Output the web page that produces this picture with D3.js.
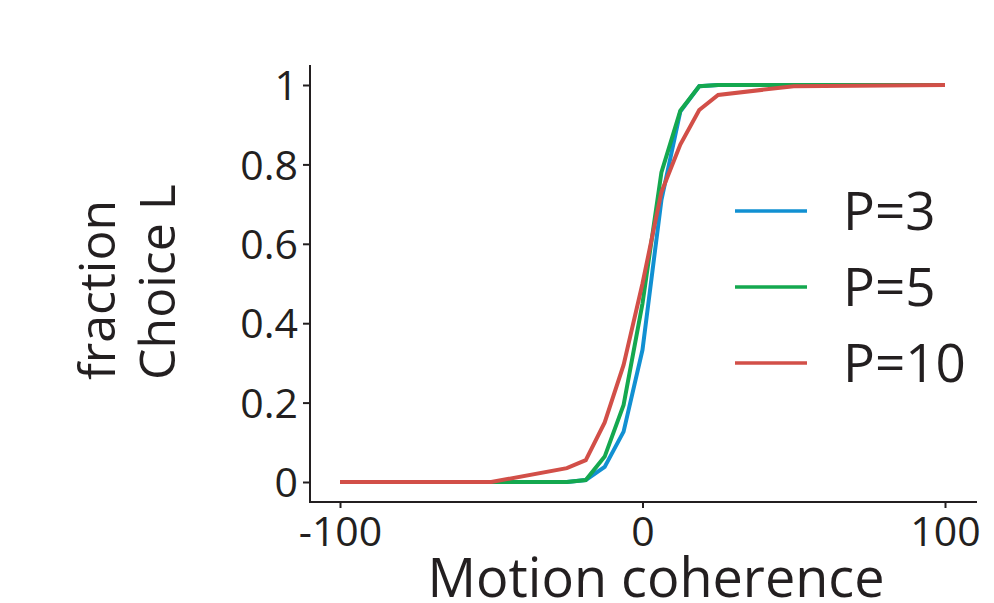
<!DOCTYPE html>
<html>
<head>
<meta charset="utf-8">
<script src="https://cdn.jsdelivr.net/npm/d3@7"></script>
<style>
  html, body { margin: 0; padding: 0; background: #fff; }
  svg text { font-family: 'Open Sans', sans-serif; fill: #231f20; }
</style>
</head>
<body>
<svg id="chart" width="994" height="603"></svg>
<script>
// coherence levels (x) and fraction of left choices per pool size
const coherence = [-100, -50, -25, -18.75, -12.5, -6.25, 0, 6.25, 12.5, 18.75, 25, 50, 100];
const p3 = [0, 0, 0, 0.005, 0.038, 0.127, 0.333, 0.71, 0.933, 0.997, 1, 1, 1];
const p5 = [0, 0, 0, 0.005, 0.064, 0.194, 0.45, 0.78, 0.935, 0.997, 1, 1, 1];
const p10 = [0, 0, 0.035, 0.055, 0.15, 0.295, 0.5, 0.73, 0.85, 0.937, 0.975, 0.997, 1];
const seriesNames = ['P=3', 'P=5', 'P=10'];
const xTicks = [-100, 0, 100];
const yTicks = [0, 0.2, 0.4, 0.6, 0.8, 1];

const colors = ['#1190d2', '#14a84f', '#d24f48'];
const series = [p3, p5, p10];

const svg = d3.select('#chart');
const ink = '#231f20';

const x = d3.scaleLinear().domain([-100, 100]).range([340, 945]);
const y = d3.scaleLinear().domain([0, 1]).range([482, 85]);

// spines (offset from data like seaborn despine)
svg.append('line')
  .attr('x1', 310).attr('x2', 310).attr('y1', 65).attr('y2', 503)
  .attr('stroke', ink).attr('stroke-width', 2);
svg.append('line')
  .attr('x1', 309).attr('x2', 977).attr('y1', 502).attr('y2', 502)
  .attr('stroke', ink).attr('stroke-width', 2);

const gy = svg.append('g').attr('transform', 'translate(310,0)')
  .call(d3.axisLeft(y).tickValues(yTicks).tickSize(7).tickPadding(5)
    .tickFormat(d => String(d)));
const gx = svg.append('g').attr('transform', 'translate(0,502)')
  .call(d3.axisBottom(x).tickValues(xTicks).tickSize(6).tickPadding(7)
    .tickFormat(d => String(d)));

[gx, gy].forEach(g => {
  g.select('.domain').remove();
  g.selectAll('.tick line').attr('stroke', ink).attr('stroke-width', 2);
  g.selectAll('.tick text').attr('fill', ink).style('font-size', '41px')
    .style('font-family', "'Open Sans', sans-serif");
});
gy.selectAll('.tick text').attr('dy', '0.36em');
gx.selectAll('.tick text').attr('dy', '0.76em');

// lines
const line = d3.line()
  .x((d, i) => x(coherence[i]))
  .y(d => y(d));

svg.append('g').selectAll('path')
  .data(series)
  .join('path')
  .attr('d', d => line(d))
  .attr('fill', 'none')
  .attr('stroke', (d, i) => colors[i])
  .attr('stroke-width', 4)
  .attr('stroke-linejoin', 'miter');

// legend
const legend = svg.append('g').attr('transform', 'translate(735,230)');
const items = legend.selectAll('g')
  .data(seriesNames)
  .join('g')
  .attr('transform', (d, i) => `translate(0,${i * 76})`);
items.append('line')
  .attr('x1', 0).attr('x2', 72).attr('y1', -19).attr('y2', -19)
  .attr('stroke', (d, i) => colors[i]).attr('stroke-width', 3.5);
items.append('text')
  .attr('x', 108).attr('y', 0)
  .style('font-size', '53px')
  .text(d => d);

// axis titles
svg.append('text')
  .attr('x', 656).attr('y', 597)
  .attr('text-anchor', 'middle')
  .style('font-size', '54px')
  .text('Motion coherence');

const ylab = svg.append('g').attr('transform', 'translate(0,380) rotate(-90)');
ylab.append('text').attr('x', 0).attr('y', 115).style('font-size', '50px').text('fraction');
ylab.append('text').attr('x', 0).attr('y', 175).style('font-size', '50px').text('Choice L');
</script>
</body>
</html>
